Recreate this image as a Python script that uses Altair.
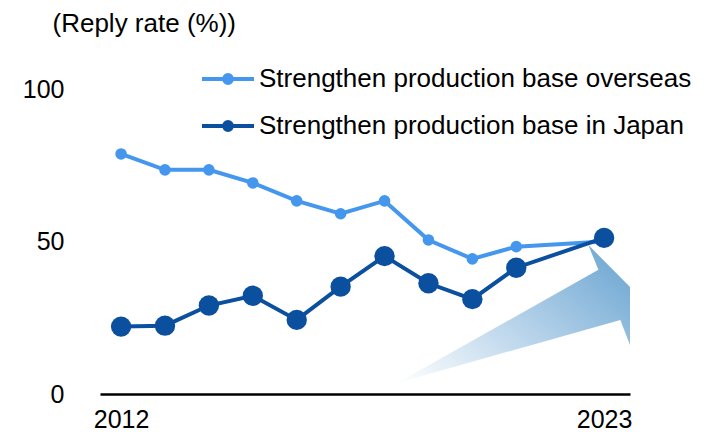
import altair as alt
import pandas as pd

# ---- data ----
years = [2012, 2013, 2014, 2015, 2016, 2017, 2018, 2019, 2020, 2021, 2023]
overseas = [78.7, 73.5, 73.5, 69.2, 63.3, 59.1, 63.3, 50.5, 44.3, 48.3, 50.0]
japan = [22.1, 22.4, 29.0, 32.2, 24.3, 35.2, 45.2, 36.3, 31.1, 41.4, 51.2]
series_names = ["Strengthen production base overseas", "Strengthen production base in Japan"]
series_colors = ["#4597ee", "#0b4f9f"]
point_sizes = [135, 415]
y_ticks = [0, 50, 100]
x_ticks = [2012, 2023]

# decorative gradient arrow (in data units)
arrow_x = [2018.29, 2022.87, 2022.64, 2023.59, 2023.59, 2023.37]
arrow_y = [3.6, 40.7, 48.9, 35.1, 16.1, 24.3]

FONT = "Liberation Sans"

rows = []
for name, vals in zip(series_names, [overseas, japan]):
    for i, (yr, v) in enumerate(zip(years, vals)):
        rows.append({"year": yr, "value": v, "series": name, "i": i})
df = pd.DataFrame(rows)

arrow_df = pd.DataFrame({"x": arrow_x, "y": arrow_y, "o": list(range(len(arrow_x)))})

xscale = alt.Scale(domain=[2011.52, 2023.59], nice=False, zero=False)
yscale = alt.Scale(domain=[0, 100], nice=False, zero=True)

color = alt.Color(
    "series:N",
    scale=alt.Scale(domain=series_names, range=series_colors),
    sort=series_names,
    legend=alt.Legend(
        orient="none",
        legendX=100,
        legendY=-38,
        title=None,
        padding=0,
        symbolType="M-1,0H1M0.15,0A0.15,0.15,0,1,1,-0.15,0A0.15,0.15,0,1,1,0.15,0M0.06,0A0.06,0.06,0,1,1,-0.06,0A0.06,0.06,0,1,1,0.06,0",
        symbolSize=2704,
        symbolStrokeWidth=4,
        labelFontSize=26,
        labelFont=FONT,
        labelColor="#000000",
        labelOffset=3,
        labelLimit=800,
        rowPadding=6,
    ),
)

fill = alt.Fill(
    "series:N",
    scale=alt.Scale(domain=series_names, range=series_colors),
    legend=None,
)

x_enc = alt.X(
    "year:Q",
    scale=xscale,
    axis=alt.Axis(
        values=x_ticks,
        format="d",
        title=None,
        grid=False,
        ticks=False,
        tickSize=0,
        domain=True,
        domainColor="#000000",
        domainWidth=2.5,
        labelFontSize=25,
        labelFont=FONT,
        labelColor="#000000",
        labelPadding=13,
        labelFlush=False,
    ),
)
y_enc = alt.Y(
    "value:Q",
    scale=yscale,
    axis=alt.Axis(
        values=y_ticks,
        title="(Reply rate (%))",
        titleAngle=0,
        titleX=-48,
        titleY=-66,
        titleAlign="left",
        titleBaseline="middle",
        titleFontSize=26,
        titleFont=FONT,
        titleFontWeight="normal",
        titleColor="#000000",
        grid=False,
        ticks=False,
        tickSize=0,
        domain=False,
        labelFontSize=25,
        labelFont=FONT,
        labelColor="#000000",
        labelPadding=36,
        labelFlush=False,
    ),
)

arrow = (
    alt.Chart(arrow_df)
    .mark_line(
        fill=alt.LinearGradient(
            gradient="linear",
            stops=[
                alt.GradientStop(color="#ffffff", offset=0),
                alt.GradientStop(color="#c4dbee", offset=0.45),
                alt.GradientStop(color="#7aaed6", offset=1),
            ],
            x1=0, y1=1, x2=1, y2=0.3,
        ),
        strokeWidth=0,
        strokeOpacity=0,
    )
    .encode(
        x=alt.X("x:Q", scale=xscale),
        y=alt.Y("y:Q", scale=yscale),
        order="o:Q",
    )
)

lines = (
    alt.Chart(df)
    .mark_line(strokeWidth=4)
    .encode(x=x_enc, y=y_enc, color=color, order="i:Q")
)

point_layers = []
for name, sz in zip(series_names, point_sizes):
    point_layers.append(
        alt.Chart(df)
        .transform_filter(alt.datum.series == name)
        .mark_point(filled=True, opacity=1, size=sz, strokeWidth=0)
        .encode(x=x_enc, y=y_enc, fill=fill)
    )

chart = (
    alt.layer(arrow, lines, *point_layers)
    .properties(
        width=530,
        height=305,
        autosize=alt.AutoSizeParams(type="none"),
        padding={"left": 92, "top": 81, "right": 74, "bottom": 40},
    )
    .configure(font=FONT)
    .configure_view(strokeWidth=0, stroke="transparent")
)

chart.save("out.html", embed_options={"renderer": "svg", "actions": False})
